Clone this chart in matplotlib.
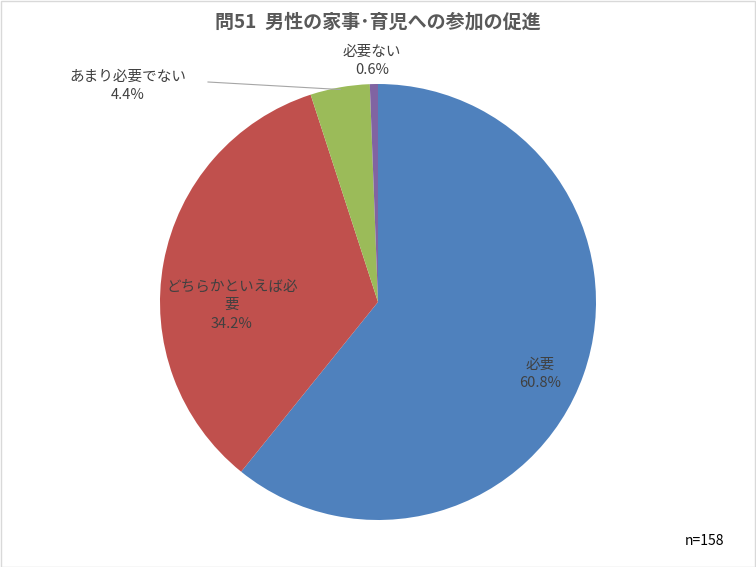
import numpy as np
import matplotlib
matplotlib.use("Agg")
import matplotlib.pyplot as plt
from matplotlib.patches import Rectangle

plt.rcParams['font.family'] = ['Noto Sans CJK JP', 'DejaVu Sans']

# data
title = "問51  男性の家事･育児への参加の促進"
categories = ["必要", "どちらかといえば必\n要", "あまり必要でない", "必要ない"]
shares = [60.8, 34.2, 4.4, 0.6]
colors = ["#4F81BD", "#C0504D", "#9BBB59", "#8064A2"]
sample_note = "n=158"

W, H = 756, 567
fig = plt.figure(figsize=(W / 100, H / 100), dpi=100)
fig.patch.set_facecolor("white")
fig.add_artist(Rectangle((0.5 / W, 0.5 / H), 1 - 1.5 / W, 1 - 1.5 / H,
                         transform=fig.transFigure, fill=False,
                         edgecolor="#D9D9D9", linewidth=1.0))

# pie centre (378, 302) px, radius 218 px
cx, cy, r = 378, 302, 218
ax = fig.add_axes([(cx - r) / W, (H - cy - r) / H, 2 * r / W, 2 * r / H])
wedges, _ = ax.pie(shares, colors=colors, startangle=90, counterclock=False,
                   radius=1.0, wedgeprops=dict(linewidth=0))
ax.set_xlim(-1, 1)
ax.set_ylim(-1, 1)
ax.axis("off")


def px(x, y):
    # pixel (from top-left) to pie data coordinates
    return (x - cx) / r, (cy - y) / r


label_pos = [(540, 374), (232, 305), (128, 86), (372, 61)]
txt_color = "#404040"
for name, val, (lx, ly) in zip(categories, shares, label_pos):
    ax.text(*px(lx, ly), f"{name}\n{val:.1f}%", ha="center", va="center",
            fontsize=10.5, color=txt_color, linespacing=1.42)

# leader line for the small green slice
gx, gy = px(208, 82)
mid = np.deg2rad((wedges[2].theta1 + wedges[2].theta2) / 2)
ax.plot([gx, np.cos(mid) * 0.99], [gy, np.sin(mid) * 0.99],
        color="#A6A6A6", linewidth=0.8, clip_on=False)

fig.text(0.5, 1 - 22 / H, title, ha="center", va="center",
         fontsize=13.7, fontweight="bold", color="#595959")
fig.text(704 / W, 1 - 541 / H, sample_note, ha="center", va="center",
         fontsize=10, color="black")

fig.savefig("out.png", dpi=100)
